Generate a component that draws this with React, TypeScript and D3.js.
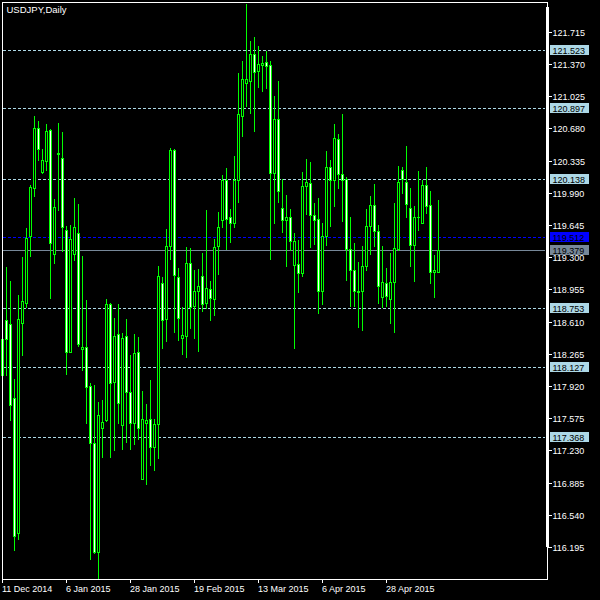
import React from "react";
import * as d3 from "d3";

// ---- Data (USDJPY daily) ----
const opens = [
  118.04, 118.622, 118.584, 117.788, 116.342, 118.599, 118.813, 119.521, 120.045, 120.684,
  120.21, 120.332, 120.661, 119.338, 120.401, 120.363, 119.586, 118.285, 119.33, 119.556,
  118.312, 118.335, 117.922, 117.31, 116.143, 117.474, 117.558, 118.794, 117.96, 118.481,
  117.501, 118.45, 117.857, 117.528, 118.285, 116.927, 117.528, 117.57, 117.264, 117.509,
  119.02, 118.637, 119.414, 120.443, 119.089, 118.438, 118.458, 119.234, 118.775, 118.936,
  119.097, 118.81, 118.955, 118.848, 119.414, 119.693, 120.122, 119.728, 119.663, 120.122,
  120.807, 121.17, 121.182, 121.48, 121.289, 121.361, 121.392, 121.354, 120.198, 120.784,
  119.831, 119.693, 119.728, 119.211, 119.223, 119.127, 120.057, 120.091, 119.747, 119.712,
  118.932, 119.529, 120.263, 120.122, 120.562, 120.191, 120.141, 119.383, 119.158, 118.924,
  118.932, 119.204, 119.632, 119.854, 119.575, 118.878, 119.02, 118.848, 119.031, 119.383,
  120.229, 120.103, 119.827, 119.426, 119.728, 119.67, 120.072, 119.854, 119.139, 119.139,
];
const highs = [
  118.59, 119.204, 119.051, 118.006, 118.905, 119.311, 119.621, 120.084, 120.822, 120.768,
  120.47, 120.738, 120.684, 119.938, 120.746, 120.65, 119.644, 119.655, 119.942, 119.881,
  119.326, 118.852, 117.96, 117.941, 117.761, 117.78, 118.867, 118.821, 118.657, 118.81,
  118.496, 118.649, 118.262, 118.488, 118.454, 117.876, 117.738, 117.991, 117.578, 119.215,
  119.097, 119.613, 120.478, 120.466, 119.192, 118.775, 119.414, 119.406, 119.177, 119.184,
  119.353, 119.816, 119.058, 119.51, 119.797, 120.187, 120.263, 119.827, 120.394, 121.281,
  121.411, 122.023, 121.625, 121.664, 121.572, 121.465, 121.518, 121.415, 121.036, 121.197,
  120.152, 119.976, 119.827, 119.567, 119.491, 120.218, 120.363, 120.325, 119.888, 119.942,
  119.674, 120.447, 120.351, 120.738, 120.631, 120.845, 120.168, 119.739, 119.46, 119.261,
  119.433, 119.823, 119.965, 120.091, 119.651, 119.433, 119.192, 119.353, 119.888, 120.286,
  120.275, 120.501, 120.053, 119.858, 120.233, 120.141, 120.275, 120.019, 119.338, 119.923,
];
const lows = [
  117.79, 118.037, 117.558, 116.162, 116.284, 118.255, 118.764, 119.307, 119.957, 120.344,
  120.198, 120.229, 118.859, 119.242, 119.804, 119.364, 118.044, 118.28, 119.272, 118.35,
  118.094, 117.528, 116.066, 116.131, 115.85, 117.157, 117.547, 117.157, 117.233, 117.528,
  117.249, 117.321, 117.241, 117.294, 117.348, 116.927, 116.87, 117.069, 117.015, 117.145,
  118.324, 118.4, 119.28, 118.503, 118.412, 118.266, 118.228, 118.542, 118.431, 118.297,
  118.725, 118.756, 118.622, 118.676, 119.116, 119.624, 119.383, 119.46, 119.624, 119.892,
  120.6, 120.922, 120.849, 120.654, 121.124, 121.082, 121.109, 119.284, 119.67, 119.892,
  119.567, 119.207, 119.376, 118.324, 118.924, 119.1, 119.766, 119.406, 119.445, 118.706,
  118.794, 119.433, 119.636, 119.846, 120.045, 119.69, 119.058, 118.775, 118.775, 118.553,
  118.523, 119.158, 119.338, 119.414, 118.813, 118.764, 118.775, 118.599, 118.496, 119.376,
  119.988, 119.728, 119.204, 119.047, 119.586, 119.67, 119.778, 119.024, 118.878, 119.139,
];
const closes = [
  118.42, 118.419, 117.711, 116.315, 118.637, 118.829, 119.502, 120.053, 120.684, 120.455,
  120.34, 120.65, 119.452, 119.835, 120.42, 119.624, 118.285, 119.498, 119.621, 118.373,
  118.335, 117.91, 117.31, 116.143, 117.604, 117.539, 118.794, 117.949, 118.458, 117.738,
  118.438, 117.857, 117.52, 118.274, 117.474, 117.57, 117.555, 117.271, 117.509, 119.093,
  118.622, 119.414, 120.443, 119.104, 118.649, 118.465, 119.242, 118.771, 118.936, 118.986,
  118.802, 118.97, 118.859, 119.406, 119.621, 120.122, 119.712, 119.663, 120.122, 120.837,
  121.205, 121.205, 121.48, 121.281, 121.365, 121.381, 121.342, 120.206, 120.784, 120.011,
  119.693, 119.728, 119.468, 119.468, 119.127, 120.057, 120.11, 119.747, 119.701, 118.932,
  119.529, 120.263, 120.122, 120.573, 120.191, 120.122, 119.383, 119.158, 118.932, 118.936,
  119.204, 119.632, 119.854, 119.575, 118.986, 119.031, 118.886, 119.031, 119.395, 120.11,
  120.133, 119.866, 119.426, 119.728, 119.728, 120.072, 119.846, 119.139, 119.158, 119.379,
];

const priceTicks = [
  121.715, 121.37, 121.025, 120.68, 120.335, 119.99, 119.645, 119.3, 118.955,
  118.61, 118.265, 117.92, 117.575, 117.23, 116.885, 116.54, 116.195,
];
const levelLines = [121.523, 120.897, 120.138, 118.753, 118.127, 117.368];
const askPrice = 119.512;
const bidPrice = 119.379;

const dateLabels = ["11 Dec 2014", "6 Jan 2015", "28 Jan 2015", "19 Feb 2015", "13 Mar 2015", "6 Apr 2015", "28 Apr 2015"];
const dateLabelIndex = [0, 16, 32, 48, 64, 80, 96];

const title = "USDJPY,Daily";

export default function App() {
  const W = 600;
  const H = 600;
  const left = 2;
  const right = 547;
  const top = 2;
  const bottom = 579;

  const x = d3.scaleLinear().domain([0, 1]).range([2.5, 6.5]);
  const y = d3.scaleLinear().domain([116.195, 121.715]).range([547, 31.67]);
  const py = (v: number) => Math.round(y(v)) + 0.5;

  const green = "#00ff00";
  const font = "'Liberation Sans', Arial, sans-serif";

  const candles = opens.map((o, i) => {
    const c = closes[i];
    const cx = x(i);
    const yH = py(highs[i]);
    const yL = py(lows[i]);
    const yO = Math.round(y(o));
    const yC = Math.round(y(c));
    const t = Math.min(yO, yC);
    const b = Math.max(yO, yC);
    const bear = o > c;
    return (
      <g key={i}>
        <line x1={cx} x2={cx} y1={yH} y2={yL} stroke={green} strokeWidth={1} />
        {b - t > 0 ? (
          <rect x={cx - 1} y={t + 0.5} width={2} height={b - t} fill={bear ? "#ffffff" : "#000000"} stroke={green} strokeWidth={1} />
        ) : (
          <line x1={cx - 1.5} x2={cx + 1.5} y1={t + 0.5} y2={t + 0.5} stroke={green} strokeWidth={1} />
        )}
      </g>
    );
  });

  const labelBox = (v: number, fill: string, textFill: string, key: string) => {
    const yy = y(v);
    return (
      <g key={key}>
        <rect x={550} y={Math.round(yy) - 5} width={39} height={10} fill={fill} />
        <text x={552.5} y={Math.round(yy) + 3.5} fill={textFill} fontSize={9} fontFamily={font}>
          {v.toFixed(3)}
        </text>
      </g>
    );
  };

  return (
    <div style={{ position: "absolute", left: 0, top: 0, width: W, height: H }}>
      <svg width={W} height={H} style={{ display: "block", background: "#000" }}>
        <rect x={0} y={0} width={W} height={H} fill="#000" />
        <g shapeRendering="crispEdges">
          {levelLines.map((v) => (
            <line key={v} x1={left + 1} x2={545} y1={py(v)} y2={py(v)} stroke="#add8e6" strokeWidth={1} strokeDasharray="3,2" />
          ))}
          <line x1={left + 1} x2={545} y1={py(askPrice)} y2={py(askPrice)} stroke="#0000ff" strokeWidth={1} strokeDasharray="3,2" />
          <line x1={left + 1} x2={545} y1={py(bidPrice)} y2={py(bidPrice)} stroke="#778899" strokeWidth={1} />
          {candles}
          {/* frame */}
          <rect x={left + 0.5} y={top + 0.5} width={right - left} height={bottom - top} fill="none" stroke="#fff" strokeWidth={1} />
          <rect x={545.5} y={7} width={3} height={540} fill="#fff" />
          {priceTicks.map((v) => (
            <line key={v} x1={548} x2={552} y1={py(v)} y2={py(v)} stroke="#fff" strokeWidth={1} />
          ))}
          {dateLabelIndex.map((idx) => (
            <line key={idx} x1={x(idx)} x2={x(idx)} y1={bottom} y2={bottom + 4} stroke="#fff" strokeWidth={1} />
          ))}
        </g>
        {priceTicks.map((v) => (
          <text key={v} x={552.5} y={Math.round(y(v)) + 3.5} fill="#fff" fontSize={9} fontFamily={font}>
            {v.toFixed(3)}
          </text>
        ))}
        {dateLabels.map((d, i) => (
          <text key={d} x={x(dateLabelIndex[i]) - 0.5} y={592} fill="#fff" fontSize={9} fontFamily={font}>
            {d}
          </text>
        ))}
        <g shapeRendering="crispEdges">
          {levelLines.map((v) => labelBox(v, "#add8e6", "#000", "l" + v))}
          {labelBox(askPrice, "#0000ff", "#000", "ask")}
          {labelBox(bidPrice, "#778899", "#000", "bid")}
        </g>
        <text x={6.5} y={13} fill="#fff" fontSize={9.5} fontFamily={font}>
          {title}
        </text>
      </svg>
    </div>
  );
}
